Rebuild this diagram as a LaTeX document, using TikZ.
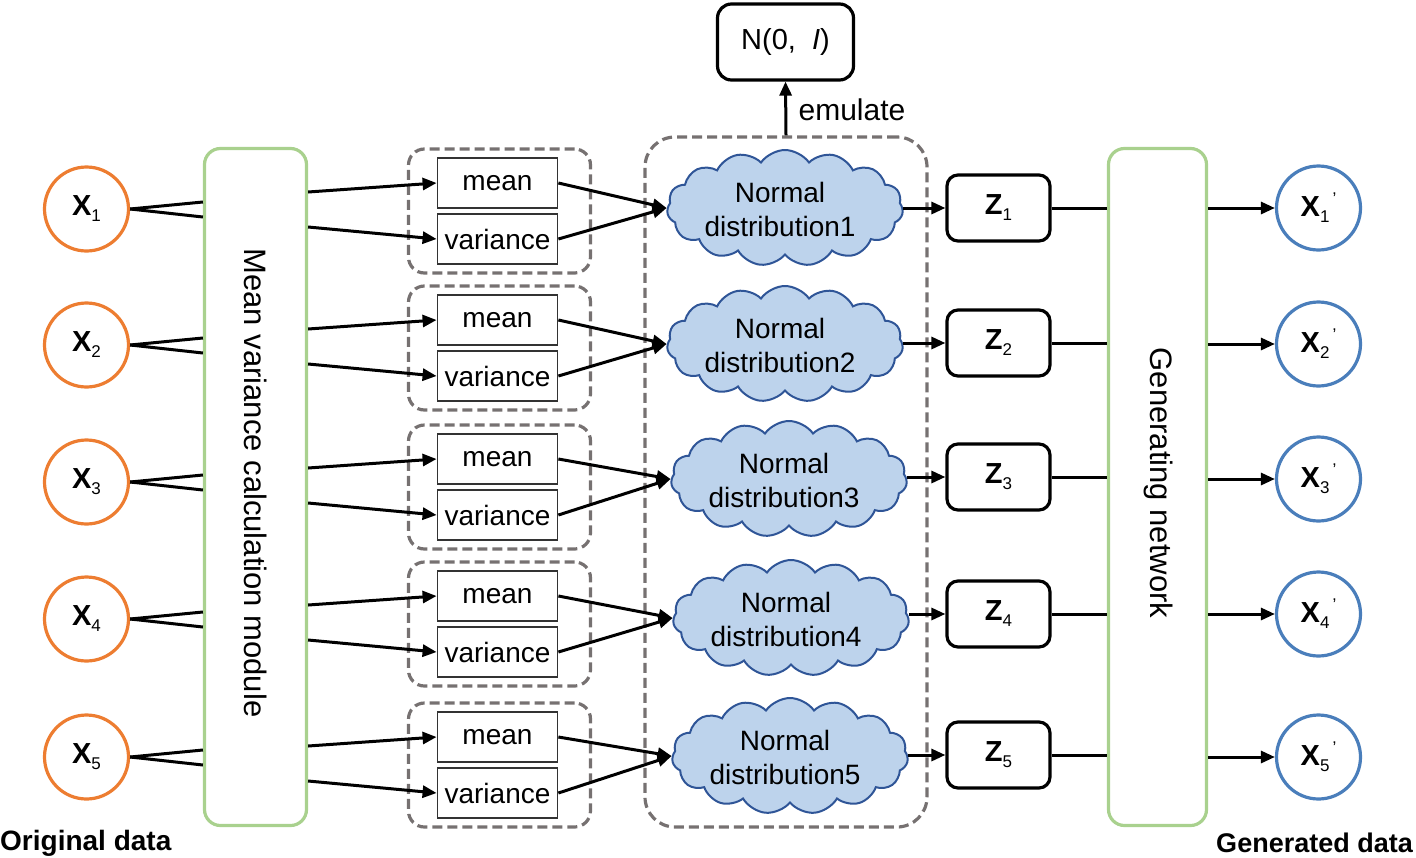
\documentclass[tikz,border=0pt]{standalone}
\usepackage{fontspec}
\setmainfont{Liberation Sans}
\usetikzlibrary{arrows.meta,shapes.symbols,calc}
\definecolor{xorange}{HTML}{ED7D31}
\definecolor{xblue}{HTML}{4A7EBB}
\definecolor{xgreen}{HTML}{A9D18E}
\definecolor{dgray}{HTML}{767171}
\definecolor{cloudfill}{HTML}{BDD3EC}
\definecolor{cloudline}{HTML}{2F5597}
\newcommand{\xlab}[1]{\textbf{X}\raisebox{-6pt}{\fontsize{17}{17}\selectfont #1}}
\newcommand{\xplab}[1]{\textbf{X}\raisebox{-6pt}{\fontsize{17}{17}\selectfont #1}\hspace{3pt}\raisebox{12pt}{\fontsize{17}{17}\selectfont ’}}
\newcommand{\zlab}[1]{\textbf{Z}\raisebox{-6pt}{\fontsize{17}{17}\selectfont #1}}
\begin{document}
\begin{tikzpicture}[x=1pt,y=-1pt,
  conn/.style={line width=3pt, black},
  arr/.style={conn, -{Triangle[length=14pt,width=12pt]}},
  ocirc/.style={circle, draw=xorange, line width=3.2pt, minimum size=84pt, inner sep=0pt, font=\fontsize{29}{29}\selectfont},
  bcirc/.style={circle, draw=xblue, line width=3.2pt, minimum size=84pt, inner sep=0pt, font=\fontsize{29}{29}\selectfont},
  greenbox/.style={draw=xgreen, line width=3.2pt, rounded corners=16pt, inner sep=0pt},
  grp/.style={draw=dgray, line width=3.2pt, dash pattern=on 10pt off 5pt, rounded corners=16pt, inner sep=0pt, minimum width=182pt, minimum height=124pt},
  mvbox/.style={draw=black!80, line width=1.8pt, minimum width=120pt, minimum height=50pt, inner sep=0pt, font=\fontsize{28}{28}\selectfont},
  cloudn/.style={cloud, cloud puffs=15, cloud puff arc=110, cloud ignores aspect, draw=cloudline, line width=2pt, fill=cloudfill, minimum width=236pt, minimum height=116pt, inner sep=0pt},
  ctext/.style={align=center, font=\fontsize{28}{34}\selectfont, inner sep=0pt},
  zbox/.style={draw, line width=3.2pt, rounded corners=11pt, minimum width=103pt, minimum height=66pt, inner sep=0pt, font=\fontsize{29}{29}\selectfont},
  lbl/.style={inner sep=0pt, font=\fontsize{28}{28}\selectfont\bfseries}
]
\useasboundingbox (0,0) rectangle (1416,857);
% big boxes
\node[greenbox, minimum width=102pt, minimum height=677pt] (lg) at (255.5,487) {};
\node[greenbox, minimum width=98pt, minimum height=677pt] (rg) at (1157.5,487) {};
\node[rotate=-90, inner sep=0pt, font=\fontsize{31}{31}\selectfont] (lt) at (256,483) {Mean variance calculation module};
\node[rotate=-90, inner sep=0pt, font=\fontsize{31}{31}\selectfont] (rt) at (1158,483) {Generating network};
\node[draw=dgray, line width=3.2pt, dash pattern=on 10pt off 5pt, rounded corners=30pt, minimum width=282pt, minimum height=690pt, inner sep=0pt] (big) at (786,482) {};
\node[zbox, rounded corners=14pt, minimum width=136pt, minimum height=76pt] (N) at (785.5,42) {N(0,~~\textit{I})};
\draw[arr] (big.north) -- (N.south);
\node[inner sep=0pt, font=\fontsize{30}{30}\selectfont] (em) at (852,110) {emulate};
\foreach \i/\yx/\yg/\cx/\cy/\yz/\yp in {1/209/211/785/208/208/208, 2/345/348/785/344/343/344, 3/482/487/789/479/477/479, 4/619/624/791/618/614/614, 5/757/765/790/756/755/757}{
  \node[ocirc] (x\i) at (86.5,\yx) {\xlab{\i}};
  \node[grp] (g\i) at (499.5,\yg) {};
  \node[mvbox] (m\i) at (497.5,\yg-28) {mean};
  \node[mvbox] (v\i) at (497.5,\yg+28) {variance};
  \node[cloudn] (c\i) at (\cx,\cy) {};
  \node[ctext] (t\i) at (\cx-5,\cy+1) {Normal\\distribution\i};
  \node[zbox] (z\i) at (998.5,\yz) {\zlab{\i}};
  \node[bcirc] (xp\i) at (1318.5,\yp) {\xplab{\i}};
  \draw[conn] (x\i.east) -- ([yshift=7pt]x\i.east -| lg.west);
  \draw[conn] (x\i.east) -- ([yshift=-8pt]x\i.east -| lg.west);
  \draw[arr] ([yshift=19pt]g\i.center -| lg.east) -- (m\i.west);
  \draw[arr] ([yshift=-16pt]g\i.center -| lg.east) -- (v\i.west);
  \draw[arr] (m\i.east) -- (c\i.west);
  \draw[arr] (v\i.east) -- (c\i.west);
  \draw[arr] (c\i.east |- z\i) -- (z\i.west);
  \draw[conn] (z\i.east) -- (z\i.east -| rg.west);
  \draw[arr] (xp\i.west -| rg.east) -- (xp\i.west);
}
\node[lbl, anchor=base west] (od) at (0,850) {Original data};
\node[lbl, anchor=base east, font=\fontsize{27}{27}\selectfont\bfseries] (gd) at (1413,852) {Generated data};
\end{tikzpicture}
\end{document}
